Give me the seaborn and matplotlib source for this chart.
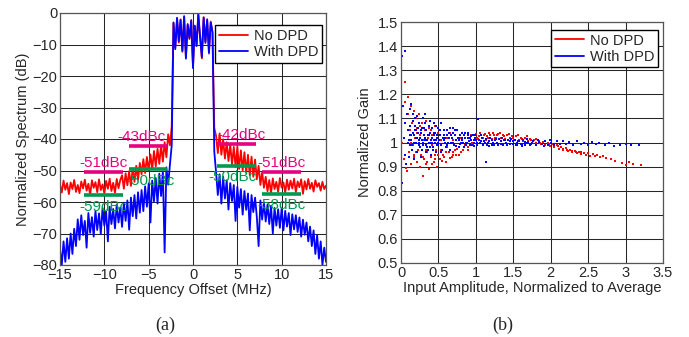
import matplotlib
matplotlib.use("Agg")
import matplotlib.pyplot as plt
import seaborn as sns
from matplotlib.lines import Line2D

# ---- (a) spectrum (0.2 MHz bins) ----
freq_mhz = [
    -15.0, -14.8, -14.6, -14.4, -14.2, -14.0, -13.8, -13.6, -13.4, -13.2,
    -13.0, -12.8, -12.6, -12.4, -12.2, -12.0, -11.8, -11.6, -11.4, -11.2,
    -11.0, -10.8, -10.6, -10.4, -10.2, -10.0, -9.8, -9.6, -9.4, -9.2,
    -9.0, -8.8, -8.6, -8.4, -8.2, -8.0, -7.8, -7.6, -7.4, -7.2,
    -7.0, -6.8, -6.6, -6.4, -6.2, -6.0, -5.8, -5.6, -5.4, -5.2,
    -5.0, -4.8, -4.6, -4.4, -4.2, -4.0, -3.8, -3.6, -3.4, -3.2,
    -3.0, -2.8, -2.6, -2.4, -2.2, -2.0, -1.8, -1.6, -1.4, -1.2,
    -1.0, -0.8, -0.6, -0.4, -0.2, 0.0, 0.2, 0.4, 0.6, 0.8,
    1.0, 1.2, 1.4, 1.6, 1.8, 2.0, 2.2, 2.4, 2.6, 2.8,
    3.0, 3.2, 3.4, 3.6, 3.8, 4.0, 4.2, 4.4, 4.6, 4.8,
    5.0, 5.2, 5.4, 5.6, 5.8, 6.0, 6.2, 6.4, 6.6, 6.8,
    7.0, 7.2, 7.4, 7.6, 7.8, 8.0, 8.2, 8.4, 8.6, 8.8,
    9.0, 9.2, 9.4, 9.6, 9.8, 10.0, 10.2, 10.4, 10.6, 10.8,
    11.0, 11.2, 11.4, 11.6, 11.8, 12.0, 12.2, 12.4, 12.6, 12.8,
    13.0, 13.2, 13.4, 13.6, 13.8, 14.0, 14.2, 14.4, 14.6, 14.8,
    15.0,
]
spec_no_dpd = [
    -54.5, -57.0, -53.2, -56.1, -54.0, -57.5, -53.8, -55.9, -53.0, -56.8,
    -54.6, -57.2, -53.5, -55.7, -52.9, -56.4, -54.2, -57.8, -53.1, -55.5,
    -53.7, -56.9, -52.8, -56.2, -54.4, -57.3, -53.3, -55.8, -52.6, -56.5,
    -53.9, -57.1, -52.7, -55.6, -53.0, -51.5, -55.8, -50.9, -54.7, -50.2,
    -54.9, -49.3, -53.6, -48.5, -53.0, -47.6, -51.2, -46.4, -50.8, -45.7,
    -50.1, -44.9, -49.6, -43.8, -48.7, -43.1, -47.9, -42.0, -47.2, -41.0,
    -45.8, -38.5, -42.0, -36.0, -3.2, -11.0, -1.8, -9.4, -2.0, -12.3,
    -1.2, -14.0, -3.8, -8.3, -2.2, -17.0, -4.3, -10.2, -0.6, -7.9,
    -14.4, -1.3, -9.1, -2.4, -12.9, -2.7, -6.4, -36.5, -39.0, -44.5,
    -38.2, -45.0, -40.1, -46.2, -41.0, -47.0, -41.8, -48.1, -42.5, -48.9,
    -42.4, -49.5, -43.6, -50.0, -44.2, -50.8, -45.0, -51.5, -45.6, -52.0,
    -46.5, -52.8, -48.5, -54.6, -50.5, -55.5, -52.0, -56.6, -53.0, -57.2,
    -52.5, -55.9, -53.6, -56.8, -52.4, -55.4, -53.8, -57.0, -52.9, -56.1,
    -53.2, -55.7, -52.6, -56.9, -53.5, -55.3, -52.8, -57.4, -53.4, -56.0,
    -52.7, -55.8, -53.9, -56.7, -53.1, -55.2, -54.0, -56.4, -53.6, -55.9,
    -54.8,
]
spec_with_dpd = [
    -75.0, -80.0, -72.5, -79.0, -71.5, -78.0, -70.0, -76.5, -68.5, -74.0,
    -65.5, -72.0, -64.2, -70.5, -66.0, -74.5, -63.5, -69.8, -64.8, -71.0,
    -62.8, -68.9, -63.6, -70.2, -61.9, -67.5, -63.0, -72.5, -61.5, -67.0,
    -62.2, -68.4, -60.8, -66.5, -61.7, -67.9, -60.2, -66.0, -59.5, -68.8,
    -58.6, -64.5, -57.8, -65.2, -56.9, -63.4, -56.2, -62.9, -55.0, -61.5,
    -54.1, -66.5, -53.2, -59.8, -52.4, -60.5, -51.0, -58.1, -50.3, -76.0,
    -49.0, -54.5, -48.0, -42.0, -3.0, -11.5, -1.5, -9.0, -2.2, -12.0,
    -1.0, -14.5, -3.5, -8.0, -2.5, -17.5, -4.0, -10.5, -0.3, -7.5,
    -14.0, -1.5, -9.5, -2.0, -12.5, -3.0, -6.0, -44.0, -50.5, -57.8,
    -51.2, -60.5, -52.0, -58.9, -53.1, -62.4, -54.0, -59.7, -54.6, -66.0,
    -55.2, -61.8, -55.9, -64.0, -56.5, -62.5, -57.3, -69.0, -57.8, -63.2,
    -58.6, -64.8, -74.0, -59.5, -65.6, -60.1, -66.2, -60.8, -67.0, -61.2,
    -70.0, -61.9, -67.5, -62.3, -68.2, -62.0, -69.0, -62.8, -67.8, -63.5,
    -70.5, -63.9, -68.7, -64.2, -69.5, -64.9, -71.0, -65.6, -70.4, -66.5,
    -72.5, -67.8, -74.0, -69.0, -76.5, -70.5, -78.0, -72.5, -80.0, -74.5,
    -79.0,
]

# ACPR markers: label, text centre, bar span and level
acpr_labels = ["-43dBc", "-42dBc", "-51dBc", "-51dBc", "-50dBc", "-50dBc", "-59dBc", "-58dBc"]
acpr_text_x = [-5.8, 5.5, -10.1, 10.0, -4.8, 4.4, -10.1, 10.0]
acpr_text_y = [-39.3, -38.7, -47.6, -47.6, -53.3, -52.0, -61.5, -61.0]
acpr_bar_x0 = [-7.2, 2.7, -12.3, 7.8, -7.2, 2.7, -12.3, 7.8]
acpr_bar_x1 = [-2.9, 7.1, -7.9, 12.2, -2.9, 7.1, -7.9, 12.2]
acpr_bar_y = [-42.2, -41.6, -50.5, -50.5, -49.5, -48.5, -57.8, -57.5]
acpr_is_dpd = [False, False, False, False, True, True, True, True]

# ---- (b) gain vs input amplitude ----
gain_no_dpd_x = [
    0.02, 0.04, 0.05, 0.06, 0.07, 0.08, 0.09, 0.10, 0.11, 0.12,
    0.13, 0.14, 0.15, 0.16, 0.17, 0.18, 0.19, 0.20, 0.21, 0.22,
    0.23, 0.24, 0.25, 0.26, 0.27, 0.28, 0.29, 0.30, 0.31, 0.32,
    0.33, 0.34, 0.35, 0.36, 0.37, 0.38, 0.40, 0.42, 0.44, 0.45,
    0.47, 0.48, 0.50, 0.52, 0.54, 0.56, 0.58, 0.60, 0.62, 0.64,
    0.66, 0.68, 0.70, 0.72, 0.75, 0.78, 0.80, 0.83, 0.86, 0.90,
    0.93, 0.96, 0.135, 0.175, 0.215, 0.255, 0.295, 0.335, 0.375, 0.415,
    0.455, 0.495, 0.535, 0.575, 0.615, 0.655, 0.695, 0.735, 0.41, 0.46,
    1.00, 1.03, 1.06, 1.09, 1.12, 1.15, 1.18, 1.21, 1.24, 1.27,
    1.30, 1.33, 1.36, 1.39, 1.42, 1.45, 1.48, 1.51, 1.54, 1.57,
    1.60, 1.63, 1.66, 1.69, 1.72, 1.75, 1.78, 1.81, 1.84, 1.87,
    1.90, 1.93, 1.96, 1.99, 2.02, 2.05, 2.08, 2.11, 2.14, 2.17,
    2.20, 2.23, 2.26, 2.29, 2.32, 2.35, 2.38, 2.41, 2.44, 2.47,
    2.50, 2.53, 2.56, 2.59, 2.62, 2.66, 2.70, 2.74, 2.80, 2.86,
    2.95, 3.00, 3.05, 3.10, 3.20, 1.045, 1.105, 1.165, 1.225, 1.285,
    0.20, 0.25, 0.30, 0.35, 0.40, 0.45, 0.50, 0.55, 0.60, 0.65,
    0.70, 0.75, 0.80, 0.85, 0.90, 0.95, 1.01, 1.07, 1.13, 1.19,
    1.26, 1.32, 1.38, 1.44, 1.50, 1.56, 1.62, 1.68, 1.74, 1.80,
    1.86, 1.92, 1.98, 2.04, 2.10, 2.16, 2.22, 2.28, 2.34, 2.40,
]
gain_no_dpd_y = [
    1.00, 0.93, 1.249, 1.17, 0.895, 0.88, 1.12, 1.19, 0.96, 1.05,
    1.15, 0.91, 1.08, 0.99, 1.13, 0.94, 1.02, 1.10, 0.92, 1.06,
    0.97, 1.12, 0.90, 1.03, 0.95, 1.08, 0.86, 1.00, 0.93, 1.05,
    0.91, 1.09, 0.96, 1.02, 0.89, 1.06, 0.94, 1.03, 0.92, 1.07,
    0.97, 0.90, 1.04, 0.93, 1.01, 0.95, 1.05, 0.92, 1.02, 0.96,
    1.04, 0.94, 1.01, 0.97, 1.05, 0.95, 1.02, 0.97, 1.04, 0.98,
    1.03, 0.99, 1.00, 0.95, 1.04, 0.98, 1.01, 0.97, 1.03, 0.99,
    0.95, 1.00, 0.97, 0.94, 0.98, 0.935, 0.96, 0.95, 0.91, 0.93,
    1.035, 1.015, 1.04, 1.02, 1.035, 1.025, 1.04, 1.015, 1.03, 1.02,
    1.035, 1.02, 1.03, 1.015, 1.03, 1.02, 1.025, 1.01, 1.025, 1.012,
    1.02, 1.008, 1.018, 1.005, 1.015, 1.00, 1.012, 0.998, 1.008, 0.995,
    1.002, 0.99, 0.998, 0.985, 0.992, 0.98, 0.988, 0.975, 0.982, 0.97,
    0.976, 0.965, 0.97, 0.96, 0.966, 0.956, 0.962, 0.952, 0.958, 0.948,
    0.955, 0.945, 0.952, 0.942, 0.948, 0.94, 0.945, 0.935, 0.93, 0.925,
    0.915, 0.905, 0.92, 0.91, 0.905, 1.025, 1.03, 1.02, 1.04, 1.03,
    0.96, 1.07, 0.94, 0.92, 1.05, 0.93, 0.95, 0.925, 0.96, 0.97,
    0.95, 0.975, 0.96, 0.99, 0.97, 1.00, 1.02, 1.03, 1.01, 1.03,
    1.02, 1.04, 1.025, 1.035, 1.02, 1.03, 1.015, 1.025, 1.01, 1.015,
    1.00, 1.005, 0.995, 0.99, 0.985, 0.975, 0.97, 0.965, 0.96, 0.96,
]
gain_with_dpd_x = [
    0.01, 0.02, 0.05, 0.03, 0.04, 0.05, 0.06, 0.07, 0.08, 0.09,
    0.10, 0.11, 0.12, 0.13, 0.14, 0.15, 0.16, 0.17, 0.18, 0.19,
    0.20, 0.21, 0.22, 0.23, 0.24, 0.25, 0.26, 0.27, 0.28, 0.29,
    0.30, 0.31, 0.32, 0.33, 0.34, 0.35, 0.36, 0.37, 0.38, 0.39,
    0.40, 0.41, 0.42, 0.43, 0.44, 0.45, 0.46, 0.47, 0.48, 0.49,
    0.105, 0.125, 0.145, 0.165, 0.185, 0.205, 0.225, 0.245, 0.265, 0.285,
    0.305, 0.325, 0.345, 0.365, 0.385, 0.405, 0.425, 0.445, 0.465, 0.485,
    0.115, 0.155, 0.195, 0.235, 0.275, 0.315, 0.355, 0.395, 0.435, 0.475,
    0.50, 0.52, 0.54, 0.55, 0.57, 0.58, 0.60, 0.61, 0.63, 0.65,
    0.66, 0.68, 0.70, 0.71, 0.73, 0.75, 0.77, 0.79, 0.80, 0.82,
    0.84, 0.86, 0.88, 0.90, 0.92, 0.94, 0.96, 0.98, 0.51, 0.53,
    0.56, 0.59, 0.62, 0.64, 0.67, 0.69, 0.72, 0.74, 0.76, 0.78,
    0.81, 0.83, 0.85, 0.87, 0.89, 0.91, 0.93, 0.95, 0.97, 0.99,
    1.00, 1.03, 1.05, 1.08, 1.10, 1.13, 1.14, 1.16, 1.19, 1.22,
    1.25, 1.28, 1.31, 1.34, 1.37, 1.40, 1.43, 1.46, 1.50, 1.53,
    1.56, 1.60, 1.63, 1.66, 1.70, 1.73, 1.77, 1.80, 1.84, 1.88,
    1.92, 1.96, 2.00, 2.04, 2.08, 2.12, 2.16, 2.20, 2.25, 2.30,
    2.35, 2.40, 2.45, 2.50, 2.55, 2.60, 2.65, 2.72, 2.78, 2.85,
    2.93, 3.00, 3.07, 3.18, 1.015, 1.065, 1.115, 1.175, 1.235, 1.295,
    1.355, 1.415, 1.475, 1.545, 1.615, 1.685, 1.755, 1.825, 1.905, 1.985,
    0.12, 0.14, 0.17, 0.19, 0.22, 0.24, 0.27, 0.29, 0.32, 0.34,
    0.37, 0.39, 0.42, 0.44, 0.47, 0.49, 0.52, 0.54, 0.57, 0.59,
    0.62, 0.64, 0.67, 0.69, 0.72, 0.74, 0.77, 0.79, 0.82, 0.84,
    0.87, 0.89, 0.92, 0.94, 0.97, 0.99, 1.02, 1.04, 1.07, 1.09,
    1.12, 1.15, 1.18, 1.21, 1.24, 1.27, 1.30, 1.33, 1.36, 1.39,
    1.42, 1.45, 1.49, 1.52, 1.55, 1.58, 1.62, 1.65, 1.68, 1.72,
]
gain_with_dpd_y = [
    0.83, 1.36, 1.38, 1.15, 1.02, 0.95, 1.08, 0.91, 1.12, 1.00,
    1.05, 0.94, 1.14, 1.01, 1.16, 0.97, 1.09, 1.03, 0.93, 1.07,
    1.00, 1.11, 0.96, 1.04, 1.08, 0.98, 1.02, 0.94, 1.06, 1.10,
    0.99, 1.03, 1.12, 0.96, 1.05, 1.01, 0.97, 1.07, 1.00, 1.04,
    0.95, 1.06, 1.02, 0.98, 1.08, 1.00, 1.04, 0.96, 1.02, 1.06,
    1.01, 1.07, 0.99, 1.04, 1.10, 1.02, 1.06, 1.00, 1.05, 0.97,
    1.06, 1.01, 0.98, 1.03, 1.09, 1.01, 0.97, 1.04, 1.07, 0.99,
    1.03, 1.12, 1.05, 0.99, 1.01, 1.08, 1.03, 1.00, 1.01, 1.03,
    0.99, 1.03, 1.08, 0.97, 1.01, 1.05, 0.98, 1.03, 1.00, 1.06,
    0.97, 1.02, 1.04, 0.99, 1.01, 1.05, 0.98, 1.03, 1.00, 1.04,
    0.98, 1.02, 1.00, 1.04, 0.99, 1.01, 1.03, 0.985, 1.01, 0.96,
    1.02, 1.00, 1.05, 1.02, 1.00, 1.06, 1.03, 0.985, 1.02, 1.01,
    1.02, 1.00, 1.04, 0.99, 1.02, 1.005, 1.025, 0.99, 1.01, 1.02,
    1.01, 1.096, 1.00, 1.02, 0.995, 1.015, 0.918, 1.00, 1.02, 0.99,
    1.01, 1.00, 1.015, 0.995, 1.01, 1.00, 1.012, 0.995, 1.008, 0.99,
    1.005, 0.995, 1.01, 0.99, 1.003, 0.992, 1.006, 0.99, 1.002, 0.993,
    1.005, 0.99, 1.00, 0.99, 1.005, 0.995, 1.008, 0.993, 1.002, 0.99,
    1.005, 0.995, 1.00, 0.99, 1.004, 0.995, 0.998, 0.99, 0.996, 0.985,
    0.99, 0.992, 0.99, 0.99, 1.00, 1.03, 1.005, 0.985, 1.00, 0.99,
    1.02, 0.99, 1.015, 1.00, 0.985, 1.015, 0.998, 1.01, 0.985, 1.01,
    0.99, 1.03, 1.00, 1.05, 1.02, 1.01, 1.04, 1.00, 1.02, 0.99,
    1.03, 0.98, 1.00, 1.03, 1.01, 1.00, 1.05, 0.99, 1.03, 1.02,
    0.99, 1.04, 1.03, 1.00, 1.05, 1.01, 1.02, 0.995, 1.01, 1.03,
    1.00, 1.03, 1.02, 0.99, 1.00, 1.03, 0.99, 1.01, 1.005, 0.99,
    1.00, 0.99, 1.005, 1.01, 0.99, 1.015, 0.995, 1.005, 0.99, 1.01,
    0.99, 1.005, 0.995, 1.01, 0.99, 1.005, 0.995, 1.003, 0.998, 0.99,
]

sns.set_style("white")
plt.rcParams["font.family"] = ["Liberation Sans", "DejaVu Sans"]
plt.rcParams["font.size"] = 10.5

W, H = 689, 337
fig = plt.figure(figsize=(W / 100, H / 100), dpi=100)
ax1 = fig.add_axes([60 / W, 1 - 265 / H, 266 / W, 252 / H])
ax2 = fig.add_axes([401 / W, 1 - 263 / H, 262 / W, 241 / H])

magenta = "#E6007E"
green = "#00994F"
grid_kw = dict(color="#262626", lw=0.75)

# (a)
sns.lineplot(x=freq_mhz, y=spec_no_dpd, color="red", lw=1.3, estimator=None,
             sort=False, ax=ax1)
sns.lineplot(x=freq_mhz, y=spec_with_dpd, color="blue", lw=1.3, estimator=None,
             sort=False, ax=ax1)
for lab, tx, ty, x0, x1, by, dpd in zip(acpr_labels, acpr_text_x, acpr_text_y,
                                        acpr_bar_x0, acpr_bar_x1, acpr_bar_y, acpr_is_dpd):
    c = green if dpd else magenta
    ax1.hlines(by, x0, x1, color=c, lw=2.6, zorder=5)
    ax1.text(tx, ty, lab, color=c, fontsize=11, ha="center", va="center", zorder=6)
ax1.set_xlim(-15, 15)
ax1.set_ylim(-80, 0)
ax1.set_xticks(range(-15, 16, 5))
ax1.set_yticks(range(-80, 1, 10))
ax1.set_xlabel("Frequency Offset (MHz)", labelpad=1)
ax1.set_ylabel("Normalized Spectrum (dB)", labelpad=2)
ax1.legend(handles=[Line2D([], [], color="red", lw=1.3), Line2D([], [], color="blue", lw=1.3)],
           labels=["No DPD", "With DPD"], loc="upper right", bbox_to_anchor=(0.985, 0.952),
           borderaxespad=0, fancybox=False, framealpha=1, edgecolor="black",
           handlelength=2.0, handletextpad=0.4, borderpad=0.25, labelspacing=0.15)

# (b)
sns.scatterplot(x=gain_no_dpd_x, y=gain_no_dpd_y, color="red", marker="s", s=3.5,
                linewidth=0, ax=ax2)
sns.scatterplot(x=gain_with_dpd_x, y=gain_with_dpd_y, color="blue", marker="s", s=3.5,
                linewidth=0, ax=ax2)
ax2.set_xlim(0, 3.5)
ax2.set_ylim(0.5, 1.5)
ax2.set_xticks([0, 0.5, 1, 1.5, 2, 2.5, 3, 3.5])
ax2.set_xticklabels(["0", "0.5", "1", "1.5", "2", "2.5", "3", "3.5"])
ax2.set_yticks([0.5, 0.6, 0.7, 0.8, 0.9, 1.0, 1.1, 1.2, 1.3, 1.4, 1.5])
ax2.set_yticklabels(["0.5", "0.6", "0.7", "0.8", "0.9", "1", "1.1", "1.2", "1.3", "1.4", "1.5"])
ax2.set_xlabel("Input Amplitude, Normalized to Average", labelpad=1)
ax2.set_ylabel("Normalized Gain", labelpad=4)
ax2.legend(handles=[Line2D([], [], color="red", lw=1.3), Line2D([], [], color="blue", lw=1.3)],
           labels=["No DPD", "With DPD"], loc="upper right", bbox_to_anchor=(0.981, 0.967),
           borderaxespad=0, fancybox=False, framealpha=1, edgecolor="black",
           handlelength=2.0, handletextpad=0.4, borderpad=0.25, labelspacing=0.15)

for ax in (ax1, ax2):
    ax.grid(True, **grid_kw)
    ax.set_axisbelow(True)
    ax.tick_params(direction="in", length=3, pad=2, labelsize=10.5, color="#333333")
    for sp in ax.spines.values():
        sp.set_color("#555555")
        sp.set_linewidth(0.9)

fig.text(165 / W, 1 - 325 / H, "(a)", family="Liberation Serif", fontsize=13,
         ha="center", va="center")
fig.text(503 / W, 1 - 325 / H, "(b)", family="Liberation Serif", fontsize=13,
         ha="center", va="center")

fig.savefig("out.png", dpi=100)
